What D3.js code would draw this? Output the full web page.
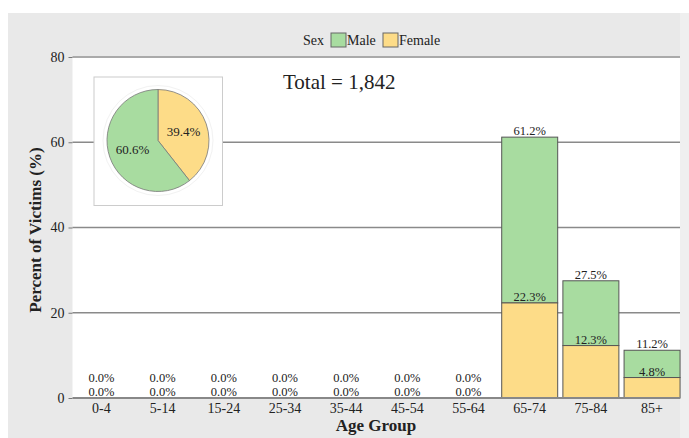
<!DOCTYPE html>
<html>
<head>
<meta charset="utf-8">
<script src="https://cdn.jsdelivr.net/npm/d3@7"></script>
<style>
  body { margin: 0; background: #fff; }
  text { font-family: "Liberation Serif", "Times New Roman", serif; fill: #222; }
</style>
</head>
<body>
<div id="chart"></div>
<script>
// ------- Data -------
const ageGroups = ["0-4", "5-14", "15-24", "25-34", "35-44", "45-54", "55-64", "65-74", "75-84", "85+"];
const femalePct = [0, 0, 0, 0, 0, 0, 0, 22.3, 12.3, 4.8];
const totalPct = [0, 0, 0, 0, 0, 0, 0, 61.2, 27.5, 11.2];
const sexLabels = ["Male", "Female"];
const sexShare = [60.6, 39.4];
const yTicks = [0, 20, 40, 60, 80];
const totalCount = "1,842";

const colors = { Male: "#a8dca0", Female: "#fddc88" };

const width = 689, height = 438;
const svg = d3.select("#chart").append("svg")
  .attr("width", width)
  .attr("height", height);

// panel background
svg.append("rect").attr("x", 8).attr("y", 13).attr("width", 672).attr("height", height - 13).attr("fill", "#e9e9e9");
svg.append("rect").attr("x", 680).attr("y", 13).attr("width", 9).attr("height", height - 13).attr("fill", "#efefef");

const plot = { left: 72.5, right: 680, top: 57, bottom: 398 };
svg.append("rect")
  .attr("x", plot.left).attr("y", plot.top)
  .attr("width", plot.right - plot.left).attr("height", plot.bottom - plot.top)
  .attr("fill", "#fff");

let x = d3.scaleBand().domain(ageGroups).range([71, 682.5]).paddingInner(0.085).paddingOuter(0.04);
let y = d3.scaleLinear().domain([0, 80]).range([plot.bottom, plot.top]);

// gridlines
svg.append("g").selectAll("line")
  .data(yTicks.filter(d => d > 0))
  .join("line")
  .attr("x1", plot.left).attr("x2", plot.right)
  .attr("y1", d => y(d)).attr("y2", d => y(d))
  .attr("stroke", d => d == 80 ? "#aaa" : "#8a8a8a")
  .attr("stroke-width", d => d == 80 ? 2 : 1.3);

// y axis
let yAxis = svg.append("g")
  .attr("transform", `translate(${plot.left},0)`)
  .call(d3.axisLeft(y).tickValues(yTicks).tickSize(4).tickPadding(4));
yAxis.select(".domain").remove();
yAxis.selectAll(".tick line").attr("stroke", "#777");
yAxis.selectAll(".tick text").style("font-size", "14px").style("font-family", "Liberation Serif").attr("fill", "#333");

// bars
const stacks = ageGroups.map((g, i) => ({
  group: g,
  female: femalePct[i],
  total: totalPct[i]
}));

let barG = svg.append("g");
barG.selectAll(".male")
  .data(stacks)
  .join("rect")
  .attr("x", d => x(d.group))
  .attr("width", x.bandwidth())
  .attr("y", d => y(d.total))
  .attr("height", d => y(d.female) - y(d.total))
  .attr("fill", colors.Male)
  .attr("stroke", "#555")
  .attr("stroke-width", 1)
  .style("display", d => d.total > 0 ? null : "none");

barG.selectAll(".female")
  .data(stacks)
  .join("rect")
  .attr("x", d => x(d.group))
  .attr("width", x.bandwidth())
  .attr("y", d => y(d.female))
  .attr("height", d => y(0) - y(d.female))
  .attr("fill", colors.Female)
  .attr("stroke", "#555")
  .attr("stroke-width", 1)
  .style("display", d => d.total > 0 ? null : "none");

// x axis
let xAxis = svg.append("g")
  .attr("transform", `translate(0,${plot.bottom})`)
  .call(d3.axisBottom(x).tickSize(0).tickPadding(5));
xAxis.select(".domain").attr("stroke", "#888").attr("stroke-width", 2)
  .attr("d", `M${plot.left},0H${plot.right}`);
xAxis.selectAll(".tick text").style("font-size", "14px").style("font-family", "Liberation Serif").attr("fill", "#333");

// value labels
let labelG = svg.append("g").style("font-size", "12.5px");
labelG.selectAll(".flab")
  .data(stacks)
  .join("text")
  .attr("x", d => x(d.group) + x.bandwidth() / 2)
  .attr("y", d => y(d.female) - 2)
  .attr("text-anchor", "middle")
  .text(d => d.female.toFixed(1) + "%");

labelG.selectAll(".tlab")
  .data(stacks)
  .join("text")
  .attr("x", d => x(d.group) + x.bandwidth() / 2)
  .attr("y", d => Math.min(y(d.total) - 2, y(d.female) - 16))
  .attr("text-anchor", "middle")
  .text(d => d.total.toFixed(1) + "%");

// axis titles
svg.append("text")
  .attr("x", 376).attr("y", 431)
  .attr("text-anchor", "middle")
  .style("font-size", "17px").style("font-weight", "bold")
  .text("Age Group");

svg.append("text")
  .attr("transform", "translate(41,230) rotate(-90)")
  .attr("text-anchor", "middle")
  .style("font-size", "17px").style("font-weight", "bold")
  .text("Percent of Victims (%)");

// legend
let legend = svg.append("g").style("font-size", "14px");
legend.append("text").attr("x", 303).attr("y", 45).text("Sex");
legend.append("rect").attr("x", 331).attr("y", 33).attr("width", 15).attr("height", 14)
  .attr("fill", colors.Male).attr("stroke", "#666");
legend.append("text").attr("x", 347).attr("y", 45).text("Male");
legend.append("rect").attr("x", 383).attr("y", 33).attr("width", 15).attr("height", 14)
  .attr("fill", colors.Female).attr("stroke", "#666");
legend.append("text").attr("x", 399).attr("y", 45).text("Female");

// total
svg.append("text")
  .attr("x", 283).attr("y", 89)
  .style("font-size", "21px")
  .text("Total = " + totalCount);

// ------- Pie inset -------
svg.append("rect")
  .attr("x", 94).attr("y", 77).attr("width", 128.5).attr("height", 128.5)
  .attr("fill", "#fff").attr("stroke", "#ccc");

let pieG = svg.append("g").attr("transform", "translate(158,140.5)");
pieG.append("circle").attr("r", 55).attr("fill", "none").attr("stroke", "#f2f2f2");
let pieData = d3.pie().sort(null).value(d => d.v)(
  [{ k: "Female", v: sexShare[1] }, { k: "Male", v: sexShare[0] }]
);
let arc = d3.arc().innerRadius(0).outerRadius(51);
let arcLab = d3.arc().innerRadius(27).outerRadius(27);
pieG.selectAll("path")
  .data(pieData)
  .join("path")
  .attr("d", arc)
  .attr("fill", d => colors[d.data.k])
  .attr("stroke", "#777")
  .attr("stroke-width", 0.8);
pieG.selectAll(".plab")
  .data(pieData)
  .join("text")
  .attr("transform", d => `translate(${arcLab.centroid(d)})`)
  .attr("text-anchor", "middle")
  .attr("dy", "0.35em")
  .style("font-size", "13px")
  .text(d => d.data.v.toFixed(1) + "%");
</script>
</body>
</html>
